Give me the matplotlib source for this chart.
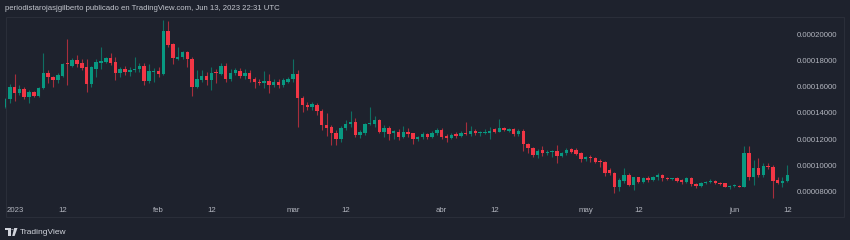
import numpy as np
import pandas as pd
import matplotlib
matplotlib.use("Agg")
import matplotlib.pyplot as plt
from matplotlib.patches import Rectangle, Polygon, Circle
from matplotlib.ticker import FuncFormatter
import matplotlib.transforms as mtransforms

# daily candles, 2022-12-31 .. 2023-06-12, prices in units of 1e-5
start_date = "2022-12-31"
PRICE_UNIT = 1e-5

open_ = [
    14.48, 15.04, 15.99, 15.54, 15.80, 15.19, 15.61, 15.29, 15.87, 17.01,
    16.71, 16.50, 16.83, 17.72, 17.57, 18.02, 17.77, 17.47, 16.20, 17.32,
    17.82, 17.89, 18.20, 17.89, 17.01, 17.34, 17.13, 17.26, 17.32, 17.59,
    16.43, 17.13, 17.19, 16.94, 20.25, 19.24, 18.10, 18.23, 18.61, 18.08,
    15.99, 16.50, 16.81, 16.50, 17.06, 16.96, 17.59, 16.56, 17.01, 17.21,
    16.81, 17.06, 16.58, 16.38, 16.30, 16.45, 16.12, 16.38, 16.12, 16.35,
    16.56, 16.96, 15.11, 14.60, 14.43, 14.60, 14.17, 13.08, 12.91, 12.50,
    12.02, 12.88, 13.16, 13.29, 12.32, 12.45, 13.16, 13.16, 13.46, 12.57,
    12.88, 12.50, 12.57, 12.19, 12.53, 12.45, 12.02, 12.15, 12.40, 12.15,
    12.50, 12.70, 12.25, 12.07, 12.40, 12.27, 12.50, 12.38, 12.65, 12.45,
    12.50, 12.50, 12.76, 12.57, 12.83, 12.65, 12.76, 12.38, 12.65, 11.64,
    11.31, 10.80, 11.18, 10.98, 11.05, 11.13, 10.72, 10.93, 11.24, 11.18,
    10.98, 10.48, 10.68, 10.60, 10.35, 10.29, 9.66, 9.46, 8.39, 8.85,
    9.28, 8.52, 9.11, 8.77, 9.03, 8.90, 9.11, 9.28, 9.08, 8.96,
    9.03, 8.90, 8.73, 9.03, 8.58, 8.45, 8.65, 8.73, 8.85, 8.70,
    8.65, 8.39, 8.45, 8.47, 8.39, 10.93, 9.15, 9.79, 9.28, 9.97,
    9.92, 8.90, 8.70, 8.83,
]
high = [
    15.14, 16.20, 16.94, 16.12, 15.99, 15.74, 15.69, 15.99, 18.53, 17.26,
    16.81, 17.01, 17.82, 19.62, 18.15, 18.40, 18.08, 18.08, 17.57, 18.08,
    18.99, 18.28, 18.53, 18.28, 17.52, 17.57, 17.52, 18.23, 17.77, 17.82,
    17.72, 17.39, 17.52, 21.06, 20.99, 19.34, 19.03, 18.73, 18.73, 18.23,
    17.26, 17.26, 17.13, 17.52, 17.32, 17.82, 17.82, 17.32, 17.39, 17.39,
    17.32, 17.26, 16.71, 16.56, 17.21, 16.96, 16.56, 16.56, 16.63, 16.75,
    18.10, 17.26, 15.29, 14.85, 14.85, 14.78, 14.28, 13.97, 13.08, 12.70,
    13.01, 13.46, 14.17, 13.59, 12.70, 13.26, 14.47, 13.77, 13.52, 13.08,
    13.01, 12.70, 12.76, 13.01, 12.83, 12.50, 12.25, 12.57, 12.50, 12.65,
    12.83, 12.83, 12.40, 12.45, 12.57, 12.65, 13.34, 13.01, 12.76, 12.63,
    12.76, 12.91, 12.88, 13.52, 12.91, 12.83, 12.83, 12.76, 12.76, 11.74,
    11.43, 11.24, 11.49, 11.18, 11.18, 11.57, 11.05, 11.31, 11.31, 11.31,
    11.05, 10.73, 10.80, 10.68, 10.48, 10.37, 9.79, 9.53, 9.03, 9.79,
    9.41, 9.16, 9.16, 9.16, 9.21, 9.21, 9.41, 9.36, 9.16, 9.08,
    9.16, 8.96, 9.16, 9.11, 8.65, 8.77, 8.85, 8.96, 8.90, 8.77,
    8.70, 8.52, 8.58, 8.52, 11.49, 11.49, 10.42, 10.55, 10.17, 10.17,
    10.04, 9.15, 9.11, 10.04,
]
low = [
    14.41, 14.78, 14.93, 15.36, 15.04, 14.78, 15.24, 15.19, 15.80, 16.25,
    15.99, 16.25, 16.75, 16.12, 17.52, 17.52, 17.26, 15.61, 15.99, 16.75,
    17.32, 17.77, 17.64, 16.50, 16.71, 16.88, 16.81, 17.13, 17.13, 16.12,
    16.25, 16.38, 16.71, 16.88, 19.03, 17.72, 18.02, 18.08, 17.52, 15.29,
    15.92, 16.38, 16.12, 15.74, 16.30, 16.88, 16.38, 16.45, 16.88, 16.63,
    16.56, 16.38, 15.87, 16.12, 15.87, 15.54, 15.99, 15.87, 15.99, 16.25,
    16.38, 12.95, 14.09, 14.22, 14.22, 13.84, 12.70, 12.25, 11.56, 11.56,
    11.81, 12.70, 12.95, 12.15, 12.07, 12.32, 13.08, 12.95, 12.45, 12.15,
    11.94, 11.99, 11.94, 12.07, 12.15, 11.64, 11.89, 12.02, 11.99, 12.07,
    12.32, 11.99, 11.81, 11.99, 12.07, 12.20, 12.32, 12.25, 12.32, 12.25,
    12.40, 11.99, 12.45, 12.53, 12.65, 12.57, 12.25, 12.25, 11.13, 10.93,
    10.63, 10.55, 10.73, 10.80, 10.68, 10.17, 10.63, 10.80, 10.93, 10.80,
    10.29, 10.37, 10.29, 10.22, 9.92, 9.21, 9.28, 7.89, 8.09, 8.65,
    8.45, 8.14, 8.70, 8.70, 8.77, 8.85, 8.90, 8.85, 8.90, 8.90,
    8.77, 8.60, 8.65, 8.45, 8.27, 8.35, 8.60, 8.65, 8.60, 8.52,
    8.35, 8.20, 8.39, 8.35, 8.35, 8.90, 8.52, 9.11, 9.15, 9.72,
    7.51, 8.60, 8.35, 8.77,
]
close = [
    15.04, 15.99, 15.54, 15.80, 15.19, 15.61, 15.29, 15.87, 17.01, 16.71,
    16.50, 16.88, 17.72, 17.70, 18.02, 17.72, 17.39, 16.20, 17.47, 17.89,
    17.97, 18.15, 17.77, 17.01, 17.32, 17.13, 17.26, 17.34, 17.59, 16.45,
    17.19, 17.19, 16.94, 20.25, 19.16, 18.15, 18.23, 18.61, 18.08, 15.99,
    16.56, 16.81, 16.50, 17.01, 17.01, 17.59, 16.56, 17.01, 17.26, 16.81,
    17.06, 16.58, 16.35, 16.30, 16.45, 16.12, 16.38, 16.12, 16.50, 16.56,
    16.96, 15.11, 14.60, 14.43, 14.66, 14.17, 13.08, 12.88, 12.45, 12.02,
    12.88, 13.16, 13.29, 12.32, 12.57, 13.16, 13.21, 13.46, 12.57, 12.83,
    12.40, 12.63, 12.19, 12.53, 12.40, 12.02, 12.15, 12.40, 12.15, 12.50,
    12.70, 12.19, 12.07, 12.32, 12.27, 12.50, 12.38, 12.65, 12.45, 12.53,
    12.57, 12.65, 12.57, 12.83, 12.70, 12.76, 12.38, 12.65, 11.62, 11.31,
    10.80, 11.13, 10.93, 11.05, 11.13, 10.75, 10.98, 11.18, 11.05, 10.88,
    10.48, 10.63, 10.55, 10.29, 10.25, 9.46, 9.41, 8.39, 8.90, 9.28,
    8.52, 9.11, 8.77, 9.03, 8.90, 9.11, 9.28, 9.03, 8.96, 9.03,
    8.85, 8.73, 9.03, 8.58, 8.45, 8.70, 8.77, 8.85, 8.65, 8.60,
    8.39, 8.47, 8.52, 8.39, 10.93, 9.15, 9.79, 9.28, 9.97, 9.87,
    8.85, 8.70, 8.85, 9.28,
]

tick_dates = ["2023-01-01", "2023-01-12", "2023-02-01", "2023-02-12", "2023-03-01", "2023-03-12",
              "2023-04-01", "2023-04-12", "2023-05-01", "2023-05-12", "2023-06-01", "2023-06-12"]
tick_labels = ["2023", "12", "feb", "12", "mar", "12", "abr", "12", "may", "12", "jun", "12"]
price_ticks = [8, 10, 12, 14, 16, 18, 20]

title = "periodistarojasjgilberto publicado en TradingView.com, Jun 13, 2023 22:31 UTC"

BG = "#1e222d"
UP = "#089981"
DOWN = "#f23645"
TXT = "#b2b5be"
W, H = 850, 240

plt.rcParams["font.family"] = ["Liberation Sans", "DejaVu Sans"]


def px(x, y):
    """pixel (from top-left) -> figure fraction"""
    return x / W, 1 - y / H


o = np.array(open_) * PRICE_UNIT
h = np.array(high) * PRICE_UNIT
l = np.array(low) * PRICE_UNIT
c = np.array(close) * PRICE_UNIT
idx = np.arange(len(o))
up = c >= o

fig = plt.figure(figsize=(W / 100, H / 100), dpi=100, facecolor=BG)
ax = fig.add_axes([5 / W, 39 / H, 788 / W, 183 / H])
ax.set_facecolor(BG)

# wicks
ax.vlines(idx[up], l[up], h[up], color=UP, lw=0.8, alpha=0.65)
ax.vlines(idx[~up], l[~up], h[~up], color=DOWN, lw=0.8, alpha=0.65)
# bodies
min_body = 0.08 * PRICE_UNIT
body = np.maximum(np.abs(c - o), min_body)
bottom = np.minimum(o, c)
ax.bar(idx, body, bottom=bottom, width=0.72, color=np.where(up, UP, DOWN), linewidth=0)

ax.set_xlim(0, 164.2)
ax.set_ylim(7.31 * PRICE_UNIT, 21.22 * PRICE_UNIT)

# time axis
start = pd.Timestamp(start_date)
tick_pos = [(pd.Timestamp(d) - start).days for d in tick_dates]
ax.set_xticks(tick_pos)
ax.set_xticklabels(tick_labels)
ax.tick_params(axis="x", length=0, pad=4.5, labelsize=5.6, labelcolor=TXT)
first = ax.get_xticklabels()[0]
first.set_transform(first.get_transform() + mtransforms.ScaledTranslation(5 / 100, 0, fig.dpi_scale_trans))

# price axis
ax.yaxis.tick_right()
ax.set_yticks([p * PRICE_UNIT for p in price_ticks])
ax.yaxis.set_major_formatter(FuncFormatter(lambda v, _: f"{v:.8f}"))
ax.tick_params(axis="y", length=0, pad=3, labelsize=5.6, labelcolor=TXT)

for s in ax.spines.values():
    s.set_visible(False)

# pane border
x0, y0 = px(6, 217)
fig.add_artist(Rectangle((x0, y0), 838 / W, 200 / H, fill=False, ec="#2a2e39",
                         lw=0.8, transform=fig.transFigure))

fig.text(*px(5, 9), title, color="#c3c6ce", fontsize=5.55, va="center", ha="left")

# TradingView logo + name
logo_c = "#d1d4dc"
fig.add_artist(Polygon([px(5, 228), px(10.5, 228), px(10.5, 236), px(8.3, 236), px(8.3, 230.3), px(5, 230.3)],
                       closed=True, fc=logo_c, ec="none", transform=fig.transFigure))
fig.add_artist(Circle(px(12.4, 229.3), 1.2 / W, fc=logo_c, ec="none", transform=fig.transFigure))
fig.add_artist(Polygon([px(14.2, 228), px(17.5, 228), px(14.6, 236), px(12.2, 236)],
                       closed=True, fc=logo_c, ec="none", transform=fig.transFigure))
fig.text(*px(19.5, 232), "TradingView", color=logo_c, fontsize=6.0, va="center", ha="left")

fig.savefig("out.png", dpi=100, facecolor=BG)
